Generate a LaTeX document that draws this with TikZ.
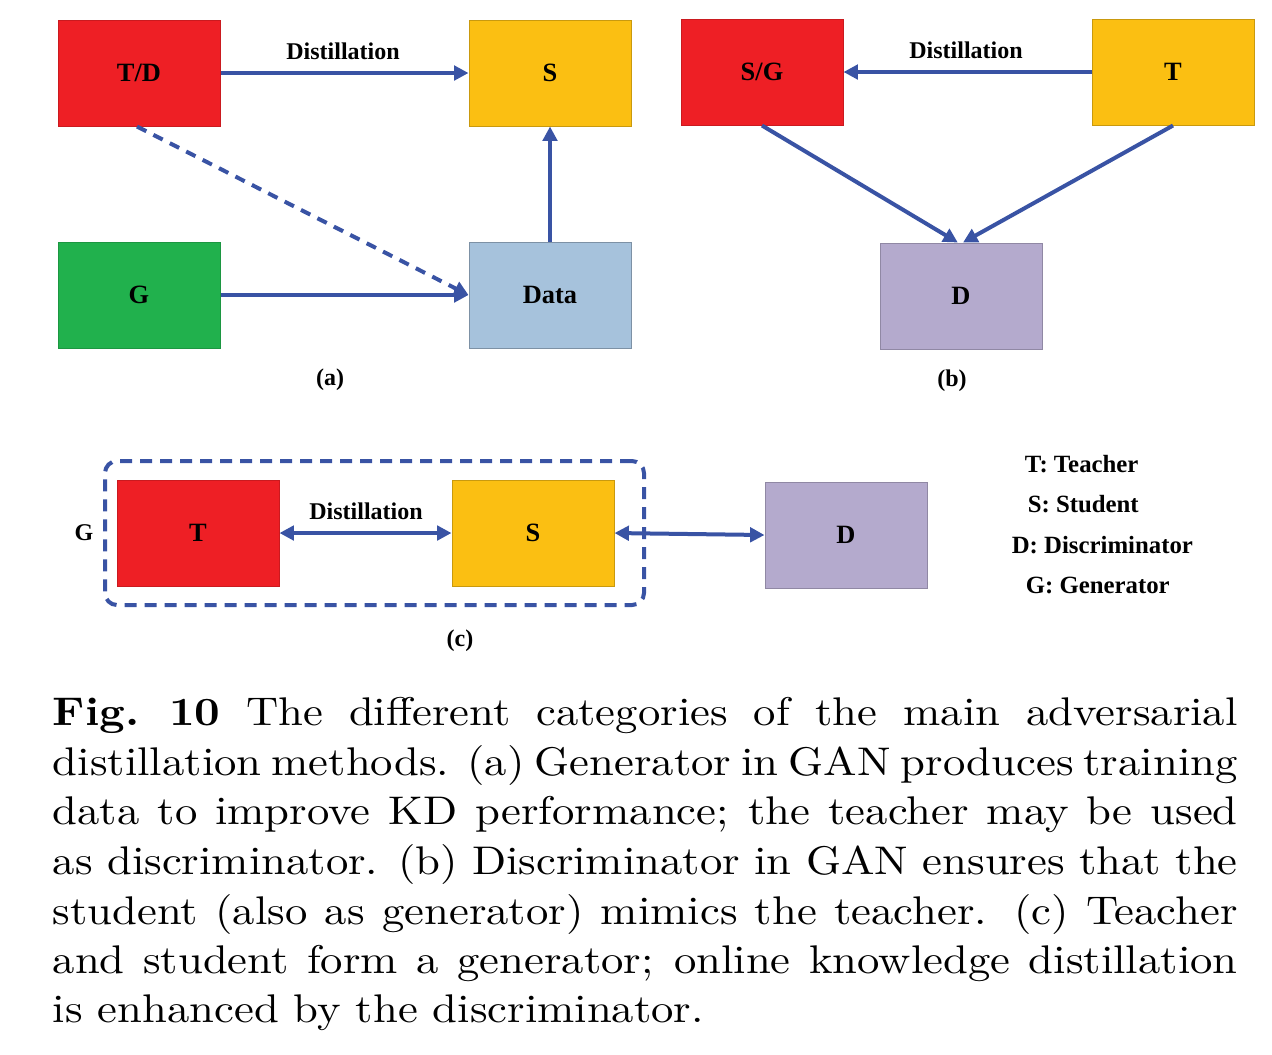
\documentclass[tikz,border=0pt]{standalone}
\usepackage{fontspec}
\usepackage{graphicx}
\newfontfamily\tnr{Liberation Serif}
\usetikzlibrary{arrows.meta}

\definecolor{boxred}{HTML}{EE1F25}
\definecolor{boxyellow}{HTML}{FBBF12}
\definecolor{boxgreen}{HTML}{21B14D}
\definecolor{boxblue}{HTML}{A6C2DC}
\definecolor{boxpurple}{HTML}{B4AACD}
\definecolor{arrowblue}{HTML}{3953A4}

% one justified caption line, set a bit wide as in the figure
\newcommand{\capline}[1]{\scalebox{1.117}[1]{\makebox[265.2pt][s]{#1}}}

\begin{document}
\begin{tikzpicture}[x=0.25pt,y=-0.25pt]

\tikzstyle{lbl} = [font=\tnr\bfseries\fontsize{6.0}{7}\selectfont,inner sep=0]
\tikzstyle{leg} = [anchor=west,inner sep=0,font=\tnr\bfseries\fontsize{6.2}{7}\selectfont]
\tikzstyle{blk} = [draw,inner sep=0,line width=0.25pt,minimum width=40.5pt,minimum height=26.5pt,
                   font=\tnr\bfseries\fontsize{6.6}{7}\selectfont]
\tikzstyle{arr} = [draw=arrowblue,line width=1pt,-{Triangle[length=3.6pt,width=3.6pt]}]
\tikzstyle{dbl} = [arr,{Triangle[length=3.6pt,width=3.6pt]}-{Triangle[length=3.6pt,width=3.6pt]}]
\tikzstyle{caprow} = [anchor=base west,inner sep=0,font=\fontsize{10}{12}\selectfont]

\useasboundingbox (0,0) rectangle (1272,1054);

% (a)
\node [blk,fill=boxred,draw=boxred!85!black] (td) at (139,73) {T/D};
\node [blk,fill=boxyellow,draw=boxyellow!80!black] (sa) at (550,73) {S};
\node [blk,fill=boxgreen,draw=boxgreen!85!black] (ga) at (139,295) {G};
\node [blk,fill=boxblue,draw=boxblue!75!black] (data) at (550,295) {Data};
\node [lbl] at (343,51) {Distillation};
\node [lbl] at (330,380) {(a)};

\draw [arr] (td) -- (sa);
\draw [arr,dash pattern=on 2.6pt off 2pt] ([xshift=-0.5pt]td.south) -- (data.west);
\draw [arr] (ga) -- (data);
\draw [arr] (data) -- (sa);

% (b)
\node [blk,fill=boxred,draw=boxred!85!black] (sg) at (762,72) {S/G};
\node [blk,fill=boxyellow,draw=boxyellow!80!black] (tb) at (1173,72) {T};
\node [blk,fill=boxpurple,draw=boxpurple!80!black] (db) at (961,296) {D};
\node [lbl] at (966,50) {Distillation};
\node [lbl] at (952,381) {(b)};

\draw [arr] (tb) -- (sg);
\draw [arr] (sg.south) -- ([xshift=-0.8pt]db.north);
\draw [arr] (tb.south) -- ([xshift=0.5pt]db.north);

% (c)
\node [draw=arrowblue,line width=1pt,dash pattern=on 3pt off 2pt,rounded corners=3pt,
       minimum width=134.75pt,minimum height=36pt] (gen) at (374.5,533) {};
\node [lbl,anchor=east] at ([xshift=-2.2pt]gen.west) {G};
\node [blk,fill=boxred,draw=boxred!85!black] (tc) at (198,533) {T};
\node [blk,fill=boxyellow,draw=boxyellow!80!black] (sc) at (533,533) {S};
\node [blk,fill=boxpurple,draw=boxpurple!80!black] (dc) at (846,535) {D};
\node [lbl] at (366,511) {Distillation};
\node [lbl] at (460,641) {(c)};

\draw [dbl] (tc) -- (sc);
\draw [dbl] (sc.east) -- (dc.west);

% legend
\node [leg] (leg1) at (1024,464) {T: Teacher};
\node [leg] (leg2) at (1027,504) {S: Student};
\node [leg] (leg3) at (1011,545) {D: Discriminator};
\node [leg] (leg4) at (1025,585) {G: Generator};

% caption
\node [caprow] (cap1) at (52,725) {\capline{\textbf{Fig.\ 10} The different categories of the main adversarial}};
\node [caprow] (cap2) at (52,775) {\capline{distillation methods. (a) Generator in GAN produces training}};
\node [caprow] (cap3) at (52,824) {\capline{data to improve KD performance; the teacher may be used}};
\node [caprow] (cap4) at (52,874) {\capline{as discriminator. (b) Discriminator in GAN ensures that the}};
\node [caprow] (cap5) at (52,924) {\capline{student (also as generator) mimics the teacher. (c) Teacher}};
\node [caprow] (cap6) at (52,973) {\capline{and student form a generator; online knowledge distillation}};
\node [caprow] (cap7) at (52,1022) {\scalebox{1.117}[1]{is enhanced by the discriminator.}};

\end{tikzpicture}
\end{document}
